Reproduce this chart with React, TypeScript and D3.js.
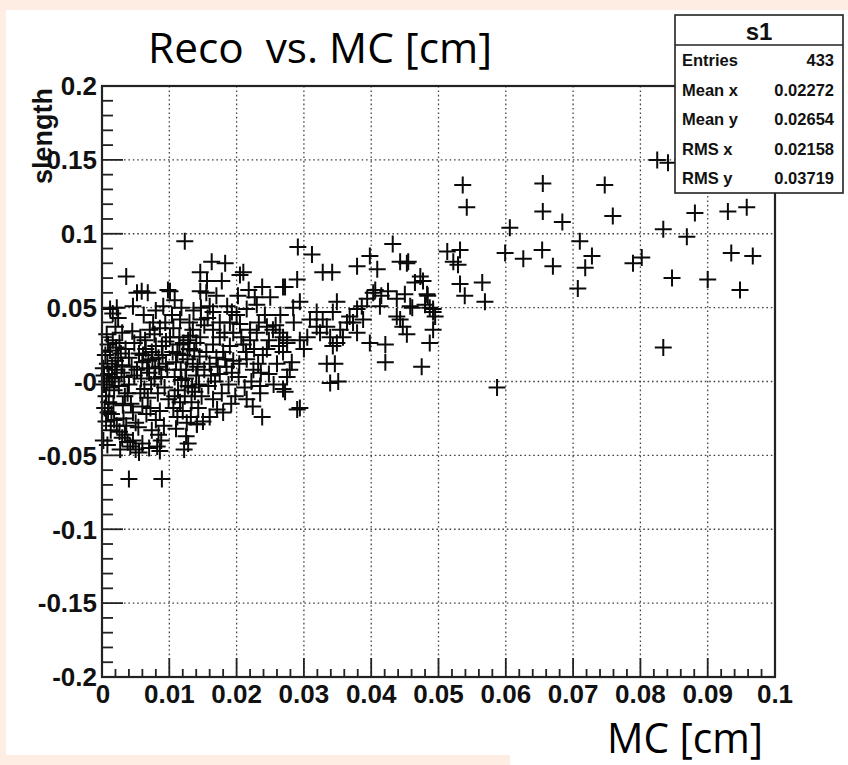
import React from "react";
import * as d3 from "d3";

const width = 848;
const height = 765;
const plot = { left: 102, right: 775, top: 86, bottom: 677 };

const titleText = "Reco  vs. MC [cm]";
const xTitle = "MC [cm]";
const yTitle = "slength";

const xTicks = [0, 0.01, 0.02, 0.03, 0.04, 0.05, 0.06, 0.07, 0.08, 0.09, 0.1];
const xTickLabels = ["0", "0.01", "0.02", "0.03", "0.04", "0.05", "0.06", "0.07", "0.08", "0.09", "0.1"];
const yTicks = [0.2, 0.15, 0.1, 0.05, 0, -0.05, -0.1, -0.15, -0.2];
const yTickLabels = ["0.2", "0.15", "0.1", "0.05", "-0", "-0.05", "-0.1", "-0.15", "-0.2"];

const statTitle = "s1";
const statNames = ["Entries", "Mean x", "Mean y", "RMS x", "RMS y"];
const statValues = ["433", "0.02272", "0.02654", "0.02158", "0.03719"];

// [MC, reco] pairs, grouped by MC range
const nearZero: [number, number][] = [
  [0.0005, 0.018], [0.0008, 0.012], [0.001, 0.005], [0.0003, -0.002], [0.0012, 0.021], [0.0015, 0.002],
  [0.0018, -0.006], [0.0006, -0.01], [0.002, 0.014], [0.0022, 0.008], [0.0025, -0.003], [0.0009, 0.025],
  [0.0016, 0.028], [0.0028, 0.019], [0.003, 0.011], [0.0033, 0.003], [0.0004, -0.018], [0.001, -0.014],
  [0.0014, -0.022], [0.0018, -0.026], [0.0022, -0.03], [0.0026, -0.034], [0.003, -0.038], [0.0034, -0.036],
  [0.0038, -0.041], [0.0042, -0.044], [0.0046, -0.04], [0.005, -0.046], [0.0055, -0.048], [0.0002, -0.04],
  [0.0008, -0.043], [0.0027, -0.046], [0.0012, 0.049], [0.0022, 0.05], [0.0016, 0.046], [0.0024, 0.043],
  [0.0036, 0.071], [0.004, -0.066], [0.0035, 0.022], [0.004, 0.016], [0.0044, 0.01], [0.0048, 0.004],
  [0.0038, -0.008], [0.0043, -0.015], [0.0046, -0.021], [0.0032, -0.025], [0.0007, 0.032], [0.003, 0.033],
  [0.0045, 0.034], [0.0048, 0.026], [0.0002, 0.009], [0.0013, -0.033], [0.0006, -0.027], [0.0036, -0.03],
  [0.005, -0.028], [0.004, -0.002], [0.0026, 0.026], [0.002, 0.037],
  [0.0003, 0.004], [0.0007, 0.0], [0.0011, -0.004], [0.0015, 0.01], [0.0019, 0.003], [0.0024, 0.016],
  [0.0029, 0.006], [0.0034, -0.01], [0.0009, -0.021], [0.0017, -0.015], [0.0021, 0.023], [0.0031, -0.016],
];

const lowMc: [number, number][] = [
  [0.0052, 0.06], [0.0068, 0.06], [0.0059, 0.061], [0.0076, 0.04], [0.0071, 0.035], [0.0046, 0.051],
  [0.0091, 0.051], [0.0098, 0.062], [0.0055, 0.019], [0.006, 0.013], [0.0065, 0.022], [0.007, 0.006],
  [0.0075, 0.015], [0.008, 0.024], [0.0085, 0.01], [0.009, 0.018], [0.0095, 0.027], [0.0058, 0.002],
  [0.0063, -0.005], [0.0068, -0.011], [0.0073, -0.002], [0.0078, 0.002], [0.0083, -0.008], [0.0088, 0.003],
  [0.0093, -0.004], [0.006, -0.017], [0.0066, -0.022], [0.0072, -0.018], [0.008, -0.026], [0.0086, -0.02],
  [0.0092, -0.03], [0.0084, -0.036], [0.0088, -0.04], [0.0082, -0.044], [0.0086, -0.047], [0.007, -0.045],
  [0.006, -0.042], [0.0089, -0.066], [0.0057, 0.03], [0.0064, 0.028], [0.0078, 0.032], [0.0086, 0.036],
  [0.0094, 0.04], [0.0062, 0.045], [0.008, 0.048], [0.0067, 0.009], [0.0097, 0.008], [0.0099, -0.012],
  [0.0054, -0.031], [0.0074, -0.033],
  [0.0052, 0.008], [0.0057, -0.008], [0.0061, 0.018], [0.0069, 0.014], [0.0074, 0.02], [0.0079, 0.009],
  [0.0084, 0.016], [0.0089, 0.024], [0.0095, 0.012],
  [0.0104, 0.045], [0.0116, 0.042], [0.0123, 0.095], [0.0135, 0.035], [0.0146, 0.03], [0.0146, 0.061],
  [0.0146, 0.074], [0.0105, 0.02], [0.011, 0.013], [0.0115, 0.025], [0.012, 0.018], [0.0125, 0.008],
  [0.013, 0.022], [0.0135, 0.012], [0.014, 0.004], [0.0145, 0.017], [0.0108, 0.003], [0.0113, -0.006],
  [0.0118, 0.001], [0.0123, -0.01], [0.0128, -0.003], [0.0133, -0.014], [0.0138, -0.007], [0.0143, -0.018],
  [0.0148, -0.01], [0.0106, -0.018], [0.0112, -0.024], [0.012, -0.02], [0.0126, -0.028], [0.0132, -0.024],
  [0.0141, -0.029], [0.0125, -0.037], [0.0128, -0.042], [0.0122, -0.046], [0.011, -0.032], [0.0115, 0.03],
  [0.0128, 0.028], [0.014, 0.026], [0.0108, 0.055], [0.0118, 0.05], [0.0136, 0.048], [0.0101, 0.061],
  [0.013, 0.04], [0.0147, 0.042],
  [0.0101, 0.03], [0.0106, 0.036], [0.0112, 0.019], [0.0117, 0.008], [0.0121, 0.026], [0.0127, 0.015],
  [0.0131, 0.031], [0.0137, 0.021], [0.0142, 0.01], [0.0108, -0.01], [0.0116, -0.014], [0.0124, 0.002],
  [0.0134, -0.004], [0.0144, -0.002],
];

const midMc: [number, number][] = [
  [0.0156, 0.068], [0.0163, 0.081], [0.0183, 0.08], [0.0178, 0.068], [0.016, 0.051], [0.0165, 0.047],
  [0.0186, 0.051], [0.0193, 0.047], [0.02, 0.045], [0.0165, 0.035], [0.0175, 0.03], [0.0155, 0.02],
  [0.016, 0.012], [0.0165, 0.025], [0.017, 0.016], [0.0175, 0.005], [0.018, 0.02], [0.0185, 0.01],
  [0.019, 0.024], [0.0195, 0.014], [0.0158, -0.003], [0.0168, 0.0], [0.0178, -0.008], [0.0188, -0.002],
  [0.0198, -0.01], [0.0171, -0.019], [0.018, -0.021], [0.016, -0.024], [0.015, -0.027], [0.0141, -0.029],
  [0.0155, 0.06], [0.017, 0.058], [0.019, 0.04], [0.0152, 0.038], [0.0182, 0.033],
  [0.0152, 0.008], [0.0162, 0.004], [0.0172, 0.01], [0.0183, 0.015], [0.0193, 0.006], [0.0192, -0.015],
  [0.0165, -0.012], [0.0147, 0.05], [0.0157, 0.043], [0.0175, 0.04], [0.0195, 0.033],
  [0.021, 0.074], [0.0205, 0.072], [0.0238, 0.064], [0.0227, 0.057], [0.0215, 0.049], [0.023, 0.052],
  [0.0205, 0.039], [0.022, 0.035], [0.023, 0.033], [0.0245, 0.037], [0.0245, 0.022], [0.0239, 0.018],
  [0.021, 0.025], [0.0215, 0.015], [0.022, 0.028], [0.0225, 0.008], [0.0232, 0.012], [0.0203, 0.003],
  [0.0212, -0.004], [0.0222, 0.0], [0.0235, -0.003], [0.0215, -0.012], [0.0224, -0.017], [0.0238, -0.024],
  [0.0235, -0.008], [0.0248, 0.005], [0.0202, 0.058], [0.0218, 0.062], [0.0242, 0.045], [0.0248, 0.028],
  [0.0204, 0.012], [0.0214, 0.02], [0.0226, 0.022], [0.0236, 0.006], [0.0207, 0.03], [0.0233, 0.04],
  [0.0254, 0.035], [0.0264, 0.033], [0.0275, 0.028], [0.0269, 0.02], [0.0282, 0.013], [0.025, 0.057],
  [0.0272, 0.064], [0.0269, 0.064], [0.0291, 0.091], [0.029, 0.069], [0.0284, 0.05], [0.0294, 0.054],
  [0.0279, 0.008], [0.0275, 0.003], [0.0269, -0.005], [0.0272, -0.007], [0.0294, -0.018], [0.029, -0.019],
  [0.0275, 0.026], [0.0294, 0.028], [0.0269, 0.03], [0.026, 0.012], [0.0255, -0.002], [0.0265, 0.045],
  [0.0285, 0.04], [0.0258, 0.038], [0.0263, 0.024],
];

const upperMc: [number, number][] = [
  [0.0312, 0.086], [0.0328, 0.074], [0.0342, 0.074], [0.0379, 0.078], [0.0398, 0.085], [0.0319, 0.047],
  [0.0309, 0.042], [0.0328, 0.042], [0.0319, 0.037], [0.0349, 0.054], [0.0379, 0.049], [0.0386, 0.051],
  [0.0388, 0.042], [0.0373, 0.04], [0.0379, 0.033], [0.0334, 0.012], [0.0346, 0.012], [0.0339, -0.001],
  [0.0351, 0.0], [0.0343, 0.047], [0.0334, 0.037], [0.0354, 0.035], [0.0364, 0.04], [0.0343, 0.024],
  [0.0349, 0.026], [0.0339, 0.03], [0.0324, 0.033], [0.0305, 0.03], [0.0398, 0.026], [0.0394, 0.056],
  [0.0358, 0.03], [0.0368, 0.044], [0.03, 0.022],
  [0.0409, 0.076], [0.0432, 0.093], [0.0443, 0.081], [0.0455, 0.081], [0.0453, 0.08], [0.0473, 0.071],
  [0.0477, 0.068], [0.0465, 0.067], [0.045, 0.059], [0.0484, 0.058], [0.0458, 0.051], [0.0492, 0.047],
  [0.048, 0.052], [0.0492, 0.049], [0.0487, 0.05], [0.0461, 0.05], [0.0475, 0.01], [0.0492, 0.035],
  [0.0487, 0.026], [0.0406, 0.062], [0.0403, 0.06], [0.0438, 0.056], [0.0413, 0.051], [0.0483, 0.059],
  [0.0438, 0.044], [0.0443, 0.042], [0.0447, 0.037], [0.0453, 0.032], [0.0421, 0.025], [0.0421, 0.013],
  [0.0415, 0.058], [0.0425, 0.061], [0.0495, 0.044],
];

const highMc: [number, number][] = [
  [0.0536, 0.133], [0.0542, 0.118], [0.0655, 0.134], [0.0655, 0.115], [0.0684, 0.108], [0.0606, 0.104],
  [0.071, 0.095], [0.0728, 0.085], [0.0718, 0.077], [0.0707, 0.063], [0.0747, 0.133], [0.0759, 0.112],
  [0.0825, 0.15], [0.0841, 0.148], [0.0834, 0.103], [0.0869, 0.098], [0.0881, 0.114], [0.093, 0.115],
  [0.0958, 0.118], [0.0789, 0.08], [0.0802, 0.084], [0.0847, 0.07], [0.09, 0.069], [0.0935, 0.087],
  [0.0967, 0.085], [0.0948, 0.062], [0.0834, 0.023], [0.0513, 0.088], [0.0532, 0.089], [0.0522, 0.081],
  [0.0529, 0.079], [0.0599, 0.087], [0.0626, 0.083], [0.0654, 0.089], [0.067, 0.078], [0.0532, 0.066],
  [0.0565, 0.067], [0.0539, 0.058], [0.0569, 0.054], [0.0587, -0.004],
];

const entries = [...nearZero, ...lowMc, ...midMc, ...upperMc, ...highMc];

const x = d3.scaleLinear().domain([0, 0.1]).range([plot.left, plot.right]);
const y = d3.scaleLinear().domain([-0.2, 0.2]).range([plot.bottom, plot.top]);

const box = { x: 675, y: 15, w: 168, h: 178, head: 30 };
const tickFont = "'Liberation Sans', Arial, sans-serif";
const textFont = "'Open Sans', 'Noto Sans', sans-serif";

const App = () => {
  const xMinor = x.ticks(50);
  const yMinor = y.ticks(40);
  const gridY = yTicks.filter((d) => d > -0.2 && d < 0.2);
  const gridX = xTicks.filter((d) => d > 0 && d < 0.1);
  const s = 8.5;

  return (
    <svg width={width} height={height} style={{ position: "absolute", left: 0, top: 0 }}>
      <rect width={width} height={height} fill="#fdede2" />
      <rect x={6} y={10} width={width - 6} height={745} fill="#fff" />
      <rect x={510} y={755} width={width - 510} height={10} fill="#fff" />

      <text x={148} y={63} fontFamily={textFont} fontSize={42} textLength={344} lengthAdjust="spacingAndGlyphs" fill="#000" style={{ whiteSpace: "pre" }}>
        {titleText}
      </text>

      {/* grid */}
      <g stroke="#444" strokeWidth={1.3} strokeDasharray="1.6 2.8">
        {gridY.map((d) => (
          <line key={"gy" + d} x1={plot.left} x2={plot.right} y1={y(d)} y2={y(d)} />
        ))}
        {gridX.map((d) => (
          <line key={"gx" + d} x1={x(d)} x2={x(d)} y1={plot.top} y2={plot.bottom} />
        ))}
      </g>

      {/* ticks */}
      <g stroke="#222" strokeWidth={1.8}>
        {yMinor.map((d) => (
          <line key={"ym" + d} x1={plot.left} x2={plot.left + (yTicks.some((t) => Math.abs(t - d) < 1e-9) ? 21 : 11)} y1={y(d)} y2={y(d)} />
        ))}
        {xMinor.map((d) => (
          <line key={"xm" + d} x1={x(d)} x2={x(d)} y1={plot.bottom} y2={plot.bottom - (xTicks.some((t) => Math.abs(t - d) < 1e-9) ? 19 : 8)} />
        ))}
      </g>

      {/* markers */}
      <g stroke="#0a0a0a" strokeWidth={2}>
        {entries.map(([mc, reco], i) => (
          <path key={i} d={`M${x(mc) - s},${y(reco)}h${2 * s}M${x(mc)},${y(reco) - s}v${2 * s}`} />
        ))}
      </g>

      {/* frame */}
      <rect x={plot.left} y={plot.top} width={plot.right - plot.left} height={plot.bottom - plot.top} fill="none" stroke="#222" strokeWidth={2.2} />

      {/* tick labels */}
      <g fontFamily={tickFont} fontWeight="bold" fontSize={26} fill="#111">
        {yTicks.map((d, i) => (
          <text key={"yl" + i} x={97} y={y(d)} dy="0.36em" textAnchor="end">
            {yTickLabels[i]}
          </text>
        ))}
        {xTicks.map((d, i) => (
          <text key={"xl" + i} x={x(d) + (i === 0 ? 1 : 0)} y={703} textAnchor="middle">
            {xTickLabels[i]}
          </text>
        ))}
      </g>

      <text transform="translate(52,88) rotate(-90)" textAnchor="end" fontFamily={tickFont} fontWeight="bold" fontSize={27} fill="#111">
        {yTitle}
      </text>

      <text x={607} y={753} fontFamily={textFont} fontSize={42} textLength={156} lengthAdjust="spacingAndGlyphs" fill="#000">
        {xTitle}
      </text>

      {/* stats box */}
      <g fontFamily={tickFont} fontWeight="bold" fill="#111">
        <rect x={box.x} y={box.y} width={box.w} height={box.h} fill="#fff" stroke="#222" strokeWidth={1.6} />
        <line x1={box.x} x2={box.x + box.w} y1={box.y + box.head} y2={box.y + box.head} stroke="#222" strokeWidth={1.4} />
        <text x={box.x + box.w / 2} y={box.y + 25} textAnchor="middle" fontSize={24}>
          {statTitle}
        </text>
        {statNames.map((n, i) => (
          <g key={n} fontSize={16.5}>
            <text x={682} y={66 + i * 29.5}>{n}</text>
            <text x={834} y={66 + i * 29.5} textAnchor="end">{statValues[i]}</text>
          </g>
        ))}
      </g>
    </svg>
  );
};

export default App;
